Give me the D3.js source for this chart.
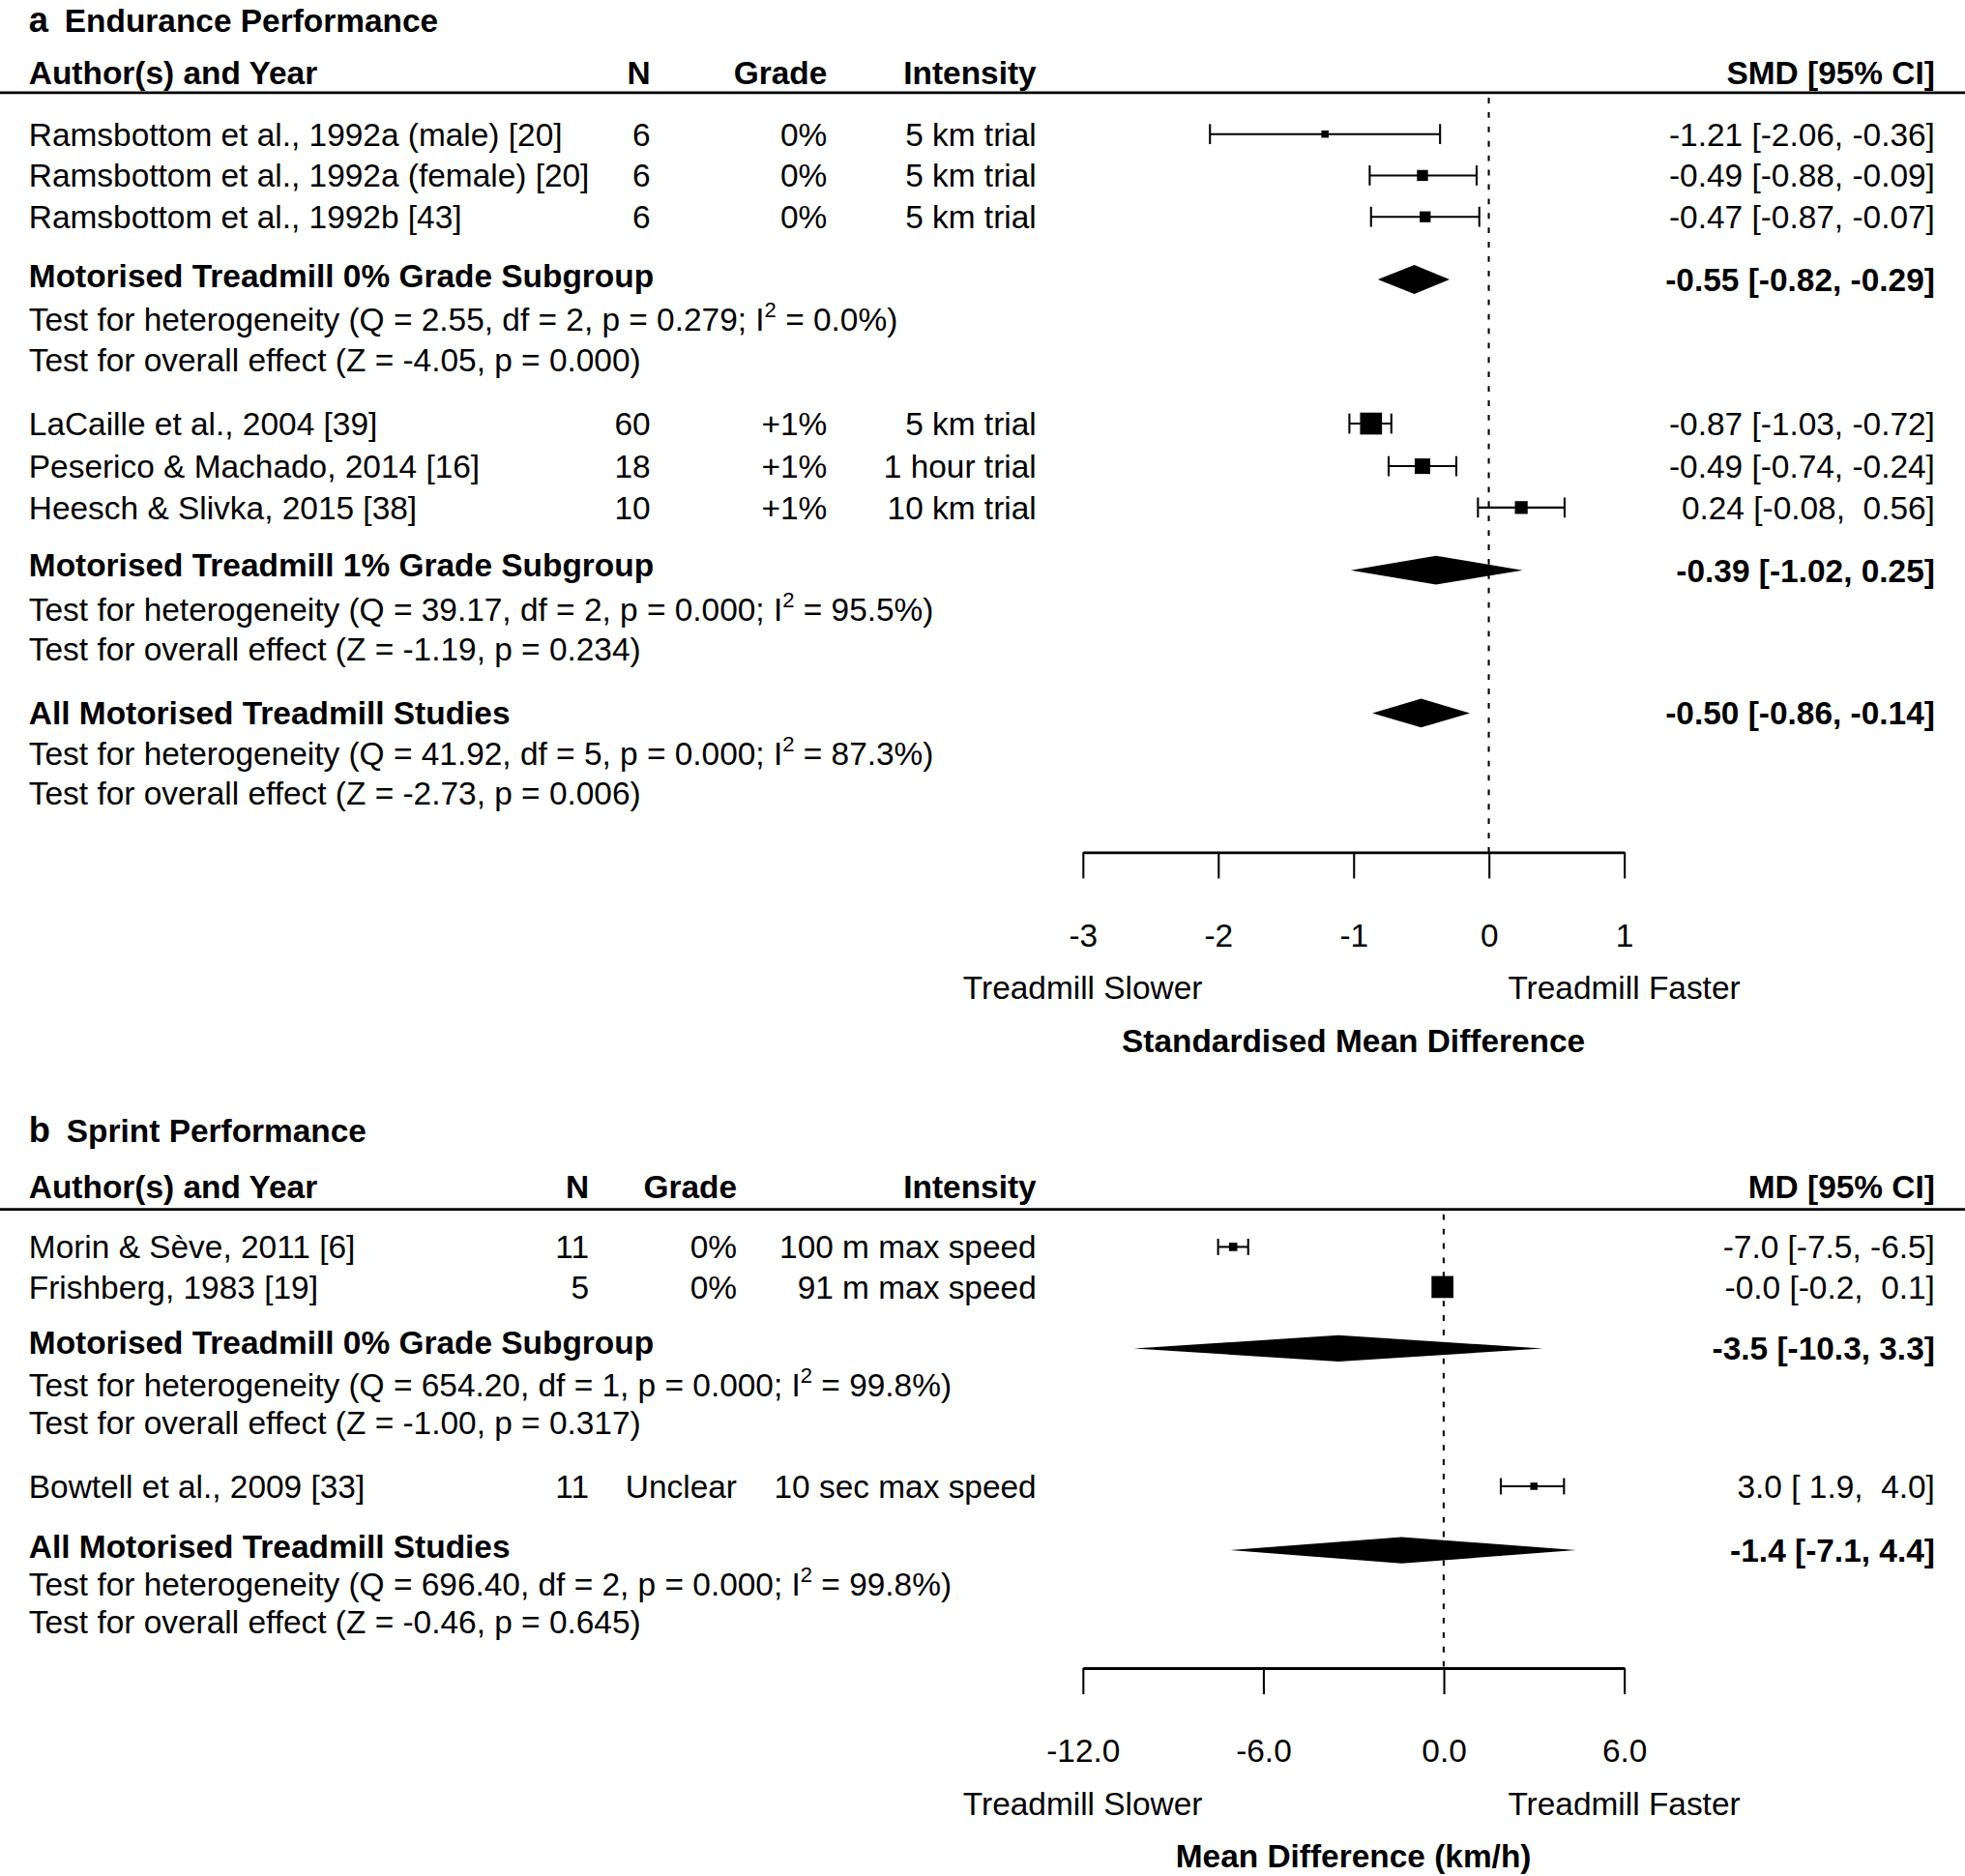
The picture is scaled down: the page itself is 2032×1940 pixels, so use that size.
<!DOCTYPE html>
<html>
<head>
<meta charset="utf-8">
<script src="https://cdn.jsdelivr.net/npm/d3@7"></script>
<style>
  body { margin: 0; background: #fff; }
  svg text { font-family: "Liberation Sans", Arial, sans-serif; fill: #000; white-space: pre; }
</style>
</head>
<body>
<svg id="chart"></svg>
<script>
// ---- panel a: endurance
const endStudy = [
  "Ramsbottom et al., 1992a (male) [20]",
  "Ramsbottom et al., 1992a (female) [20]",
  "Ramsbottom et al., 1992b [43]",
  "LaCaille et al., 2004 [39]",
  "Peserico & Machado, 2014 [16]",
  "Heesch & Slivka, 2015 [38]"
];
const endN = [6, 6, 6, 60, 18, 10];
const endGrade = ["0%", "0%", "0%", "+1%", "+1%", "+1%"];
const endIntensity = ["5 km trial", "5 km trial", "5 km trial", "5 km trial", "1 hour trial", "10 km trial"];
const endEst = [-1.21, -0.49, -0.47, -0.87, -0.49, 0.24];
const endLo = [-2.06, -0.88, -0.87, -1.03, -0.74, -0.08];
const endHi = [-0.36, -0.09, -0.07, -0.72, -0.24, 0.56];
const endWeight = [9.3, 13.9, 13.8, 27.4, 19.5, 16.1];

const endSumLabel = ["Motorised Treadmill 0% Grade Subgroup", "Motorised Treadmill 1% Grade Subgroup", "All Motorised Treadmill Studies"];
const endSumEst = [-0.55, -0.39, -0.50];
const endSumLo = [-0.82, -1.02, -0.86];
const endSumHi = [-0.29, 0.25, -0.14];
const endQ = [2.55, 39.17, 41.92];
const endDf = [2, 2, 5];
const endQp = [0.279, 0.000, 0.000];
const endI2 = [0.0, 95.5, 87.3];
const endZ = [-4.05, -1.19, -2.73];
const endZp = [0.000, 0.234, 0.006];
const endTicks = [-3, -2, -1, 0, 1];

// ---- panel b: sprint
const sprStudy = ["Morin & Sève, 2011 [6]", "Frishberg, 1983 [19]", "Bowtell et al., 2009 [33]"];
const sprN = [11, 5, 11];
const sprGrade = ["0%", "0%", "Unclear"];
const sprIntensity = ["100 m max speed", "91 m max speed", "10 sec max speed"];
const sprEst = [-7.0, -0.04, 3.0];
const sprLo = [-7.5, -0.2, 1.9];
const sprHi = [-6.5, 0.1, 4.0];
const sprWeight = [8.1, 90.1, 1.8];

const sprSumLabel = ["Motorised Treadmill 0% Grade Subgroup", "All Motorised Treadmill Studies"];
const sprSumEst = [-3.5, -1.4];
const sprSumLo = [-10.3, -7.1];
const sprSumHi = [3.3, 4.4];
const sprQ = [654.20, 696.40];
const sprDf = [1, 2];
const sprQp = [0.000, 0.000];
const sprI2 = [99.8, 99.8];
const sprZ = [-1.00, -0.46];
const sprZp = [0.317, 0.645];
const sprTicks = [-12, -6, 0, 6];

const W = 1568, H = 1497;   // drawn in these units, scaled to the 2032x1940 window
const FS = 25.8;
const base = y => y + 0.36 * FS;

const svg = d3.select('#chart')
  .attr('width', 2032)
  .attr('height', 1940)
  .attr('viewBox', `0 0 ${W} ${H}`);

function forest(p) {
  const g = svg.append('g');
  const x = d3.scaleLinear().domain(d3.extent(p.ticks)).range([864, 1296]);
  const size = d3.scaleLinear().domain(d3.extent(p.weight)).range([5.8, 17.5]);
  const lw = 1.6;

  // title
  const t = g.append('text').attr('x', 23).attr('y', base(p.titleY)).style('font-weight', 'bold');
  t.append('tspan').text(p.letter).style('font-size', '28px');
  t.append('tspan').attr('dx', 13).text(p.title).style('font-size', FS + 'px');

  // header
  const hdr = [
    { s: "Author(s) and Year", x: 23, a: 'start' },
    { s: "N", x: p.colN, a: 'end' },
    { s: "Grade", x: p.colGrade, a: 'end' },
    { s: "Intensity", x: 827, a: 'end' },
    { s: p.ciHead, x: 1544, a: 'end' }
  ];
  g.selectAll('.hdr').data(hdr).enter().append('text')
    .attr('class', 'hdr')
    .attr('x', d => d.x).attr('y', base(p.headY))
    .attr('text-anchor', d => d.a)
    .style('font-size', FS + 'px').style('font-weight', 'bold')
    .text(d => d.s);
  g.append('line').attr('x1', 0).attr('x2', W).attr('y1', p.ruleY).attr('y2', p.ruleY)
    .attr('stroke', '#000').attr('stroke-width', 2.2);

  // reference line
  g.append('line').attr('x1', x(0)).attr('x2', x(0)).attr('y1', p.ruleY + 4).attr('y2', p.axisY)
    .attr('stroke', '#000').attr('stroke-width', 1.6).attr('stroke-dasharray', '4.5 7');

  const fmt = v => v.toFixed(p.digits);
  const pad = s => s.startsWith('-') ? s : ' ' + s;

  // studies
  const rows = p.study.map((s, i) => ({
    s, n: p.n[i], grade: p.grade[i], inten: p.intensity[i],
    est: p.est[i], lo: p.lo[i], hi: p.hi[i], w: p.weight[i], y: p.studyY[i]
  }));
  const cols = [
    { k: 's', x: 23, a: 'start' },
    { k: 'n', x: p.colN, a: 'end' },
    { k: 'grade', x: p.colGrade, a: 'end' },
    { k: 'inten', x: 827, a: 'end' }
  ];
  const r = g.selectAll('.study').data(rows).enter().append('g').attr('class', 'study');
  cols.forEach(c => {
    r.append('text').attr('x', c.x).attr('y', d => base(d.y)).attr('text-anchor', c.a)
      .style('font-size', FS + 'px').text(d => d[c.k]);
  });
  r.append('text').attr('x', 1544).attr('y', d => base(d.y)).attr('text-anchor', 'end')
    .style('font-size', FS + 'px')
    .text(d => `${fmt(d.est)} [${pad(fmt(d.lo))}, ${pad(fmt(d.hi))}]`);
  r.append('line').attr('x1', d => x(d.lo)).attr('x2', d => x(d.hi))
    .attr('y1', d => d.y).attr('y2', d => d.y).attr('stroke', '#000').attr('stroke-width', lw);
  ['lo', 'hi'].forEach(k => {
    r.append('line').attr('x1', d => x(d[k])).attr('x2', d => x(d[k]))
      .attr('y1', d => d.y - p.cap / 2).attr('y2', d => d.y + p.cap / 2)
      .attr('stroke', '#000').attr('stroke-width', lw);
  });
  r.append('rect')
    .attr('x', d => x(d.est) - size(d.w) / 2).attr('y', d => d.y - size(d.w) / 2)
    .attr('width', d => size(d.w)).attr('height', d => size(d.w)).attr('fill', '#000');

  // summaries
  p.sumLabel.forEach((lab, i) => {
    const L = p.sumY[i];
    g.append('text').attr('x', 23).attr('y', base(L.label))
      .style('font-size', FS + 'px').style('font-weight', 'bold').text(lab);
    g.append('text').attr('x', 1544).attr('y', base(L.diamond)).attr('text-anchor', 'end')
      .style('font-size', FS + 'px').style('font-weight', 'bold')
      .text(`${fmt(p.sumEst[i])} [${fmt(p.sumLo[i])}, ${fmt(p.sumHi[i])}]`);
    const hd = p.dHalf, yd = L.diamond;
    g.append('path')
      .attr('d', `M${x(p.sumLo[i])},${yd} L${x(p.sumEst[i])},${yd - hd} L${x(p.sumHi[i])},${yd} L${x(p.sumEst[i])},${yd + hd} Z`)
      .attr('fill', '#000');

    const het = g.append('text').attr('x', 23).attr('y', base(L.het)).style('font-size', FS + 'px');
    het.append('tspan').text(`Test for heterogeneity (Q = ${p.q[i].toFixed(2)}, df = ${p.df[i]}, p = ${p.qp[i].toFixed(3)}; I`);
    het.append('tspan').attr('dy', -11).style('font-size', '17px').text('2');
    het.append('tspan').attr('dy', 11).text(` = ${p.i2[i].toFixed(1)}%)`);
    g.append('text').attr('x', 23).attr('y', base(L.eff)).style('font-size', FS + 'px')
      .text(`Test for overall effect (Z = ${p.z[i].toFixed(2)}, p = ${p.zp[i].toFixed(3)})`);
  });

  // axis
  const axis = d3.axisBottom(x).tickValues(p.ticks).tickSize(21).tickSizeOuter(0)
    .tickPadding(36).tickFormat(p.tickFmt);
  const ag = g.append('g').attr('transform', `translate(0,${p.axisY})`).call(axis);
  ag.attr('font-family', null).attr('font-size', null);
  ag.select('.domain').attr('stroke-width', 2.2);
  ag.selectAll('.tick line').attr('stroke-width', lw);
  ag.selectAll('.tick text').style('font-size', FS + 'px');

  g.append('text').attr('x', x.range()[0]).attr('y', base(p.axisY + 108)).attr('text-anchor', 'middle')
    .style('font-size', FS + 'px').text('Treadmill Slower');
  g.append('text').attr('x', x.range()[1]).attr('y', base(p.axisY + 108)).attr('text-anchor', 'middle')
    .style('font-size', FS + 'px').text('Treadmill Faster');
  g.append('text').attr('x', d3.mean(x.range())).attr('y', base(p.axisY + 150)).attr('text-anchor', 'middle')
    .style('font-size', FS + 'px').style('font-weight', 'bold').text(p.axisTitle);
}

forest({
  letter: 'a', title: 'Endurance Performance', titleY: 16, headY: 58, ruleY: 74,
  colN: 519, colGrade: 660, ciHead: 'SMD [95% CI]', digits: 2, cap: 16, dHalf: 11.5,
  study: endStudy, n: endN, grade: endGrade, intensity: endIntensity,
  est: endEst, lo: endLo, hi: endHi, weight: endWeight,
  studyY: [107, 140, 173, 338, 372, 405],
  sumLabel: endSumLabel, sumEst: endSumEst, sumLo: endSumLo, sumHi: endSumHi,
  q: endQ, df: endDf, qp: endQp, i2: endI2, z: endZ, zp: endZp,
  sumY: [
    { label: 220, diamond: 223, het: 255, eff: 287 },
    { label: 451, diamond: 455, het: 486, eff: 518 },
    { label: 569, diamond: 569, het: 601, eff: 633 }
  ],
  axisY: 680, ticks: endTicks, tickFmt: d => String(d),
  axisTitle: 'Standardised Mean Difference'
});

forest({
  letter: 'b', title: 'Sprint Performance', titleY: 902, headY: 947, ruleY: 965,
  colN: 470, colGrade: 588, ciHead: 'MD [95% CI]', digits: 1, cap: 13, dHalf: 10.5,
  study: sprStudy, n: sprN, grade: sprGrade, intensity: sprIntensity,
  est: sprEst, lo: sprLo, hi: sprHi, weight: sprWeight,
  studyY: [995, 1027, 1186],
  sumLabel: sprSumLabel, sumEst: sprSumEst, sumLo: sprSumLo, sumHi: sprSumHi,
  q: sprQ, df: sprDf, qp: sprQp, i2: sprI2, z: sprZ, zp: sprZp,
  sumY: [
    { label: 1071, diamond: 1076, het: 1105, eff: 1135 },
    { label: 1234, diamond: 1237, het: 1264, eff: 1294 }
  ],
  axisY: 1331, ticks: sprTicks, tickFmt: d => d.toFixed(1),
  axisTitle: 'Mean Difference (km/h)'
});
</script>
</body>
</html>
